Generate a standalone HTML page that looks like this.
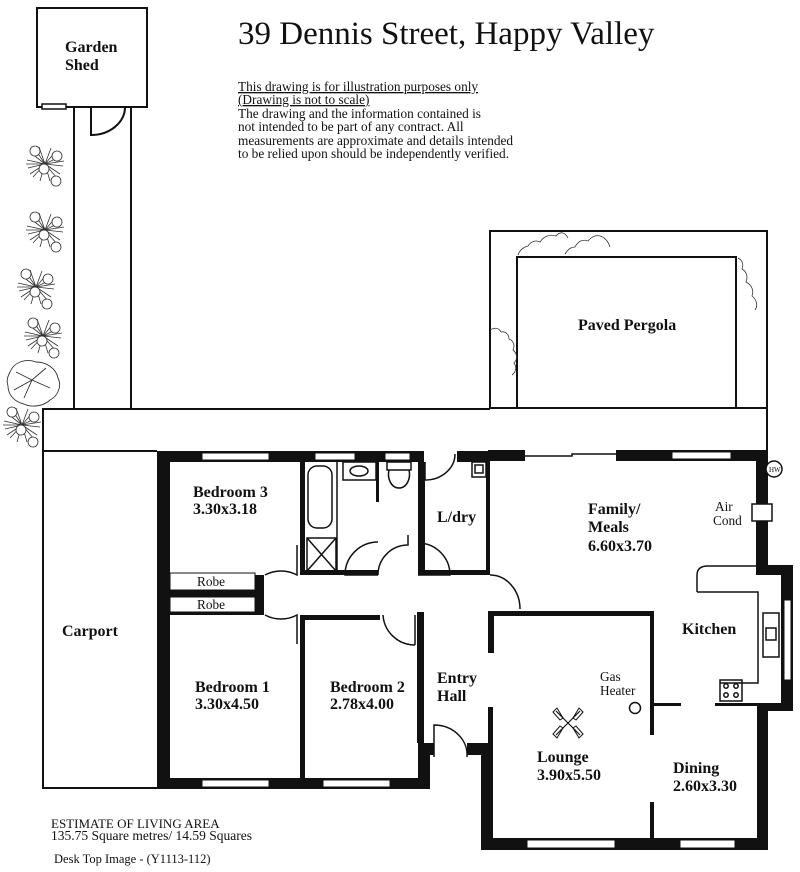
<!DOCTYPE html>
<html><head><meta charset="utf-8"><style>
html,body{margin:0;padding:0;background:#fff;}
svg{display:block;}
text{font-family:"Liberation Serif",serif;fill:#111;}
.b{font-weight:bold;font-size:16px;}
.r{font-size:13.3px;}
</style></head><body>
<svg width="800" height="872" viewBox="0 0 800 872" xmlns="http://www.w3.org/2000/svg">
<defs>
<g id="pl" stroke="#333" stroke-width="0.8" fill="none">
<path d="M0 0L-18 -4M0 0L-17 4M0 0L-14 -11M0 0L-15 10M0 0L-6 -17M0 0L6 -16M0 0L16 -8M0 0L18 2M0 0L15 10M0 0L5 17M0 0L-5 17M0 0L-10 -15M0 0L11 -13M0 0L12 14M0 0L-12 13M0 0L-19 0M0 0L19 -3"/>
<circle cx="-10" cy="-13" r="5" fill="#fff"/><circle cx="12" cy="-8" r="5" fill="#fff"/><circle cx="-1" cy="5" r="5" fill="#fff"/><circle cx="11" cy="17" r="5" fill="#fff"/>
</g>
</defs>
<g fill="none" stroke="#111" stroke-width="2">
<rect x="37" y="8" width="110" height="99"/>
<rect x="42" y="104" width="24" height="5" stroke-width="1.5" fill="#fff"/>
<line x1="74" y1="107" x2="74" y2="409"/><line x1="131" y1="107" x2="131" y2="409"/>
<path d="M91 107V135A34 28 0 0 0 125 107"/>
<path d="M43 451V409H490M43 451H157M43 451V788H157"/>
<path d="M490 409V231H767V451"/>
<rect x="517" y="257" width="219" height="151"/>
<line x1="490" y1="408" x2="767" y2="408"/>
<line x1="767" y1="409" x2="767" y2="451"/>
</g>
<g stroke="#333" stroke-width="0.8" fill="none">
<path d="M518 255c2-6 6-8 10-9c3-5 8-6 12-4c4-6 10-8 16-6c4-5 9-4 12 2M565 254c3-5 6-7 10-7c3-6 8-8 13-6c5-6 11-7 16 -3c3 2 5 6 6 9M738 258c4 2 6 6 4 11c5 3 6 8 4 13c6 3 8 9 6 14c5 4 6 10 3 14M490 330c5-3 9-2 11 2c5-1 8 3 8 7c5 2 6 7 4 11c4 3 5 9 1 13c3 4 2 9-2 12"/>
</g>
<use href="#pl" x="45" y="164"/><use href="#pl" x="45" y="230"/><use href="#pl" x="36" y="287"/><use href="#pl" x="43" y="336"/><use href="#pl" x="22" y="425"/>
<g stroke="#333" stroke-width="0.9" fill="#fff"><path d="M10 372c4-10 16-14 26-10c10 0 20 6 22 16c4 8 0 18-8 22c-6 6-18 8-26 4c-10-2-16-10-16-18c-2-6 0-10 2-14z"/><path d="M32 380L16 372M32 380L46 368M32 380L50 388M32 380L24 398M32 380L14 390" fill="none"/></g>
<g fill="#111">
<rect x="157" y="451" width="13" height="338"/>
<rect x="157" y="451" width="267" height="11"/>
<rect x="457" y="451" width="33" height="11"/>
<rect x="488" y="450" width="37" height="11"/>
<rect x="616" y="450" width="152" height="11"/>
<rect x="756" y="450" width="12" height="120"/>
<rect x="756" y="565" width="37" height="10"/>
<rect x="781" y="565" width="12" height="146"/>
<rect x="757" y="703" width="36" height="8"/>
<rect x="757" y="703" width="11" height="147"/>
<rect x="481" y="838" width="287" height="12"/>
<rect x="481" y="743" width="12" height="107"/>
<rect x="157" y="778" width="273" height="11"/>
<rect x="418" y="743" width="12" height="46"/>
<rect x="418" y="743" width="16" height="12"/>
<rect x="467" y="743" width="26" height="12"/>
<rect x="300" y="462" width="5" height="113"/>
<rect x="300" y="570" width="78" height="5"/>
<rect x="418" y="570" width="72" height="5"/>
<rect x="376" y="462" width="3" height="40"/>
<rect x="418" y="462" width="7" height="113"/>
<rect x="486" y="462" width="4" height="113"/>
<rect x="170" y="590" width="85" height="7"/>
<rect x="255" y="575" width="9" height="40"/>
<rect x="170" y="612" width="94" height="3"/>
<rect x="300" y="615" width="5" height="163"/>
<rect x="300" y="615" width="80" height="5"/>
<rect x="417" y="612" width="7" height="131"/>
<rect x="488" y="611" width="6" height="42"/>
<rect x="488" y="707" width="5" height="40"/>
<rect x="488" y="611" width="166" height="5"/>
<rect x="650" y="611" width="4" height="124"/>
<rect x="650" y="802" width="4" height="38"/>
<rect x="654" y="703" width="27" height="3"/>
<rect x="715" y="703" width="42" height="3"/>
</g>
<g fill="#fff" stroke="#111" stroke-width="1">
<rect x="202" y="453" width="67" height="7"/><rect x="315" y="453" width="40" height="7"/><rect x="385" y="453" width="25" height="7"/>
<rect x="672" y="452" width="59" height="7"/>
<rect x="784" y="600" width="7" height="80"/>
<rect x="202" y="780" width="67" height="7"/><rect x="323" y="780" width="67" height="7"/>
<rect x="527" y="840" width="88" height="8"/><rect x="680" y="840" width="55" height="8"/>
</g>
<g fill="none" stroke="#111" stroke-width="1.5">
<path d="M525 456H572V454H616"/>
<path d="M425 462V480A30 26 0 0 0 455 454"/>
<rect x="308" y="466" width="24" height="62" rx="9"/>
<rect x="307" y="538" width="29" height="33"/><path d="M307 538L336 571M336 538L307 571"/>
<line x1="337" y1="462" x2="337" y2="570"/>
<rect x="343" y="462" width="33" height="18"/><ellipse cx="359" cy="471" rx="9" ry="5"/>
<rect x="387" y="462" width="24" height="8"/><path d="M389 470c-2 8 2 18 10 18s12-10 10-18"/>
<rect x="472" y="462" width="14" height="15"/><rect x="475" y="465" width="8" height="8"/>
<path d="M297 545V575A32 30 0 0 0 265 575" />
<path d="M297 644V615A32 30 0 0 1 265 615"/>
<path d="M378 575A30 30 0 0 1 408 545V535"/>
<path d="M378 575H345A33 33 0 0 1 378 542"/>
<path d="M418 575H450A32 32 0 0 0 418 543"/>
<path d="M415 645A32 32 0 0 1 383 615"/>
<line x1="415" y1="615" x2="415" y2="645"/>
<path d="M490 575A30 34 0 0 1 520 609"/>
<path d="M434 757V725A33 30 0 0 1 467 757"/>
<rect x="170" y="573" width="85" height="17" stroke-width="1"/>
<rect x="170" y="597" width="85" height="15" stroke-width="1"/>
<path d="M697 592V575Q697 566 708 566H756M697 592H758V683H720"/>
<rect x="720" y="680" width="22" height="21"/>
<circle cx="726" cy="686" r="2.2"/><circle cx="736" cy="686" r="2.2"/><circle cx="726" cy="695" r="2.2"/><circle cx="736" cy="695" r="2.2"/>
<rect x="763" y="613" width="16" height="44"/><rect x="766" y="628" width="10" height="12"/>
<rect x="752" y="504" width="20" height="17" fill="#fff"/>
<circle cx="774" cy="469" r="8" fill="#fff"/>
<circle cx="635" cy="708" r="5.5"/>
<path d="M568 723L556 711M568 723L580 711M568 723L556 735M568 723L580 735" stroke-width="1.2"/>
<path d="M553 712l4-4 6 10-3 2zM583 712l-4-4-6 10 3 2zM553 734l4 4 6-10-3-2zM583 734l-4 4-6-10 3-2z" stroke-width="1"/>
</g>
<text x="769" y="472" style="font-size:7px">HW</text>
<text x="65" y="52" class="b">Garden</text><text x="65" y="70" class="b">Shed</text>
<text x="238" y="44" style="font-size:33px">39 Dennis Street, Happy Valley</text>
<g class="r">
<text x="238" y="91" text-decoration="underline">This drawing is for illustration purposes only</text>
<text x="238" y="104" text-decoration="underline">(Drawing is not to scale)</text>
<text x="238" y="118">The drawing and the information contained is</text>
<text x="238" y="131">not intended to be part of any contract.  All</text>
<text x="238" y="145">measurements are approximate and details intended</text>
<text x="238" y="158">to be relied upon should be independently verified.</text>
</g>
<text x="578" y="330" class="b">Paved Pergola</text>
<text x="193" y="497" class="b">Bedroom 3</text><text x="193" y="514" class="b">3.30x3.18</text>
<text x="437" y="522" class="b">L/dry</text>
<text x="588" y="514" class="b">Family/</text><text x="588" y="532" class="b">Meals</text><text x="588" y="551" class="b">6.60x3.70</text>
<text x="715" y="511" class="r">Air</text><text x="713" y="525" class="r">Cond</text>
<text x="197" y="586" class="r">Robe</text><text x="197" y="609" class="r">Robe</text>
<text x="62" y="636" class="b">Carport</text>
<text x="682" y="634" class="b">Kitchen</text>
<text x="600" y="681" class="r">Gas</text><text x="600" y="695" class="r">Heater</text>
<text x="437" y="683" class="b">Entry</text><text x="437" y="701" class="b">Hall</text>
<text x="195" y="692" class="b">Bedroom 1</text><text x="195" y="709" class="b">3.30x4.50</text>
<text x="330" y="692" class="b">Bedroom 2</text><text x="330" y="709" class="b">2.78x4.00</text>
<text x="537" y="762" class="b">Lounge</text><text x="537" y="780" class="b">3.90x5.50</text>
<text x="673" y="773" class="b">Dining</text><text x="673" y="791" class="b">2.60x3.30</text>
<g style="font-size:13px">
<text x="51" y="828">ESTIMATE OF LIVING AREA</text>
<text x="51" y="840" style="font-size:13.5px">135.75 Square metres/  14.59 Squares</text>
<text x="54" y="863" style="font-size:12.5px">Desk Top Image - (Y1113-112)</text>
</g>
</svg>
</body></html>
